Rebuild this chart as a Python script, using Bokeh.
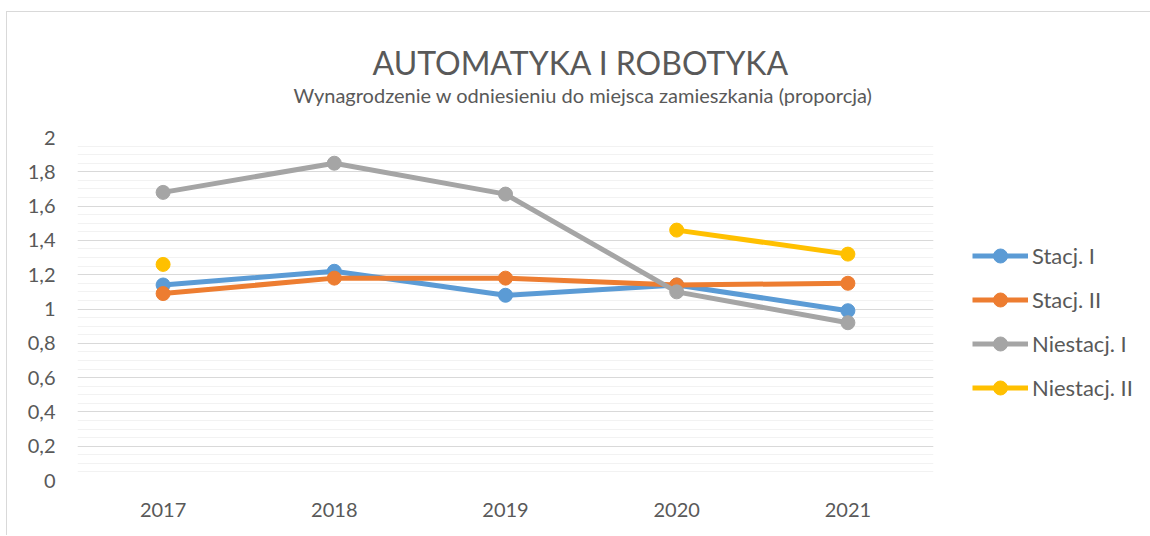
from bokeh.plotting import figure
from bokeh.models import (Legend, LegendItem, Title, CustomJSTickFormatter,
                          FixedTicker, Range1d)
from bokeh.embed import file_html
from bokeh.resources import INLINE
import numpy as np

years = ["2017", "2018", "2019", "2020", "2021"]
stacj_1 = [1.14, 1.22, 1.08, 1.14, 0.99]
stacj_2 = [1.09, 1.18, 1.18, 1.14, 1.15]
niestacj_1 = [1.68, 1.85, 1.67, 1.10, 0.92]
niestacj_2 = [1.26, np.nan, np.nan, 1.46, 1.32]

series_names = ["Stacj. I", "Stacj. II", "Niestacj. I", "Niestacj. II"]
series_values = [stacj_1, stacj_2, niestacj_1, niestacj_2]
colors = ["#5B9BD5", "#ED7D31", "#A5A5A5", "#FFC000"]

title_text = "AUTOMATYKA I ROBOTYKA"
subtitle_text = "Wynagrodzenie w odniesieniu do miejsca zamieszkania (proporcja)"

FONT = "Lato"
TXT = "#595959"

# canvas origin at page (7, 12)
OX, OY = 7, 12
FL, FR, FT, FB = 77, 933, 137, 480
p = figure(x_range=years, y_range=Range1d(0, 2),
           frame_width=FR - FL, frame_height=FB - FT,
           output_backend="svg", toolbar_location=None,
           min_border_left=FL - OX, min_border_right=1142 - (FR - OX),
           min_border_top=FT - OY, min_border_bottom=523 - (FB - OY))
p.margin = (OY - 1, 0, 0, OX - 1)
p.outline_line_color = None
p.background_fill_color = "white"
p.styles = {"border-top": "1px solid #D9D9D9", "border-left": "1px solid #D9D9D9"}

p.yaxis.ticker = FixedTicker(ticks=[0, 0.2, 0.4, 0.6, 0.8, 1.0, 1.2, 1.4, 1.6, 1.8, 2.0],
                             minor_ticks=[i * 0.05 for i in range(41)])
p.yaxis.formatter = CustomJSTickFormatter(
    code="return (Math.round(tick*10)/10).toString().replace('.', ',');")
for ax in (p.xaxis, p.yaxis):
    ax.axis_line_color = None
    ax.major_tick_line_color = None
    ax.minor_tick_line_color = None
    ax.major_label_text_font = FONT
    ax.major_label_text_font_size = "20px"
    ax.major_label_text_color = TXT
p.yaxis.major_label_standoff = 16
p.xaxis.major_label_standoff = 16

p.xgrid.grid_line_color = None
p.ygrid.grid_line_color = "#D9D9D9"
p.ygrid.grid_line_width = 1
p.ygrid.minor_grid_line_color = "#F2F2F2"
p.ygrid.minor_grid_line_width = 1

items = []
for name, vals, col in zip(series_names, series_values, colors):
    ln = p.line(years, vals, line_color=col, line_width=5)
    sc = p.scatter(years, vals, size=14, fill_color=col, line_color=col)
    items.append(LegendItem(label=name, renderers=[ln, sc]))

legend = Legend(items=items, location=(39, 75), border_line_color=None,
                background_fill_alpha=0, padding=0, margin=0,
                glyph_width=56, glyph_height=35, label_height=35,
                spacing=9, label_standoff=4,
                label_text_font=FONT, label_text_font_size="22px",
                label_text_color=TXT)
p.add_layout(legend, "right")

spacer = Title(text=" ", text_font=FONT, text_font_size="1px", standoff=28)
p.add_layout(spacer, "above")
sub = Title(text=subtitle_text, text_font=FONT, text_font_size="20px",
            text_color=TXT, text_font_style="normal", align="left",
            offset=293 - FL, standoff=0)
p.add_layout(sub, "above")
ttl = Title(text=title_text, text_font=FONT, text_font_size="32px",
            text_color=TXT, text_font_style="normal", align="left",
            offset=372 - FL, standoff=-2)
p.add_layout(ttl, "above")

open("out.html", "w").write(file_html(p, INLINE))
